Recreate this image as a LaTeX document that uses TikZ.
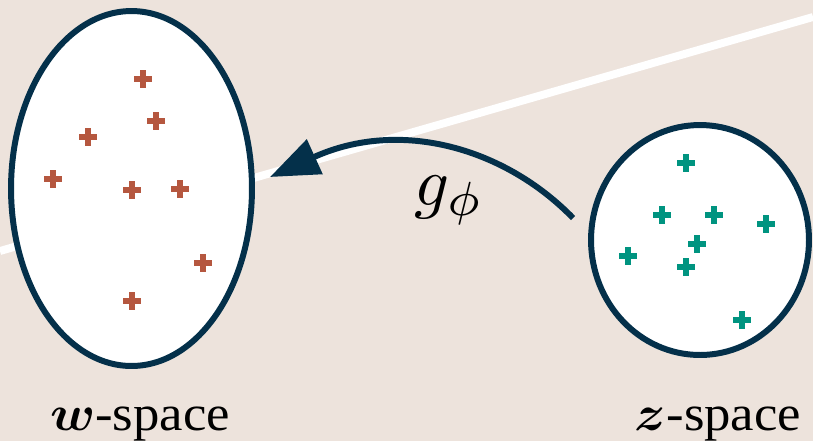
\documentclass[tikz,border=0pt]{standalone}
\usepackage{bm}
\usepackage{fontspec}
\setmainfont{Liberation Serif}
\usetikzlibrary{shapes.geometric,arrows.meta}
\definecolor{bgbeige}{HTML}{EDE3DC}
\definecolor{navy}{HTML}{04304A}
\definecolor{rust}{HTML}{B5573F}
\definecolor{teal}{HTML}{009480}
\tikzset{
  space/.style={draw=navy, fill=white, line width=3.4pt, ellipse, inner sep=0pt},
  crossmark/.style={line width=2.9pt},
  lbl/.style={font=\fontsize{10}{12}\selectfont, xscale=3.0, yscale=2.85, text=black, inner sep=0pt, anchor=base},
  maplbl/.style={font=\fontsize{10}{12}\selectfont, scale=3.9, text=black, inner sep=0pt, anchor=base},
  maparrow/.style={draw=navy, line width=3.4pt, -{Triangle[length=28pt,width=21pt]}},
  horizon/.style={draw=white, line width=4.5pt}
}
\begin{document}
\begin{tikzpicture}[x=0.02cm, y=-0.02cm]
  \fill[bgbeige] (0,0) rectangle (813,441);
  \useasboundingbox (0,0) rectangle (813,441);
  \coordinate (hl) at (0,251);
  \coordinate (hr) at (813,17);
  \draw[horizon] (hl) -- (hr);
  \node[space, minimum width=4.82cm, minimum height=7.1cm] (wsp) at (131.5,188.5) {};
  \node[space, minimum width=4.36cm, minimum height=4.6cm] (zsp) at (700,240) {};
  \foreach \x/\y in {143/79,156/121,88/137,53/179,132/190,180/189,203/263,132/301}
    \draw[crossmark, draw=rust] (\x-9,\y) -- (\x+9,\y) (\x,\y-9) -- (\x,\y+9);
  \foreach \x/\y in {686/163,662/215,714/215,766/224,697/244,628/256,686/267,742/320}
    \draw[crossmark, draw=teal] (\x-9,\y) -- (\x+9,\y) (\x,\y-9) -- (\x,\y+9);
  \coordinate (astart) at (573,218);
  \coordinate (aend) at (270,177);
  \draw[maparrow] (astart) .. controls (505,148) and (400,118) .. (aend);
  \node[maplbl] (glbl) at (449,205) {$g_{\phi}$};
  \node[lbl] (wlbl) at (140,430) {$\bm{w}$-space};
  \node[lbl] (zlbl) at (718,430) {$\bm{z}$-space};
\end{tikzpicture}
\end{document}
